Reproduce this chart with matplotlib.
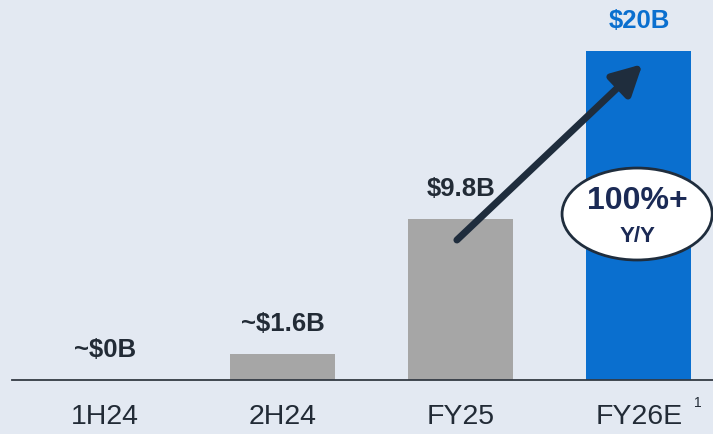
import matplotlib.pyplot as plt
from matplotlib.patches import Ellipse

# Data
periods = ["1H24", "2H24", "FY25", "FY26E"]
revenue = [0.0, 1.6, 9.8, 20.0]
value_labels = ["~$0B", "~$1.6B", "$9.8B", "$20B"]

bg = "#e3e9f2"
gray = "#a6a6a6"
blue = "#0a6fcf"
navy = "#1b2a55"
dark = "#222b36"
font = ["Liberation Sans", "DejaVu Sans"]

fig = plt.figure(figsize=(7.13, 4.34), dpi=100, facecolor=bg)
ax = fig.add_axes([12 / 713, 54 / 434, 701 / 713, 380 / 434], facecolor=bg)

x = list(range(len(periods)))
colors = [gray, gray, gray, blue]
ax.bar(x, revenue, width=0.59, color=colors, zorder=2)

ax.set_xlim(-0.52, 3.416)
ax.set_ylim(0, 23.1)

# value labels
for xi, v, lab in zip(x, revenue, value_labels):
    c = blue if xi == 3 else dark
    ax.text(xi, v + 1.1, lab, ha="center", va="bottom", fontsize=18.5,
            fontweight="bold", color=c, family=font)

# category labels
ax.set_xticks(x)
ax.set_xticklabels(periods, fontsize=20.5, color=dark, family=font)
ax.tick_params(axis="x", length=0, pad=17)
ax.set_yticks([])
for s in ["top", "right", "left"]:
    ax.spines[s].set_visible(False)
ax.spines["bottom"].set_color("#333a44")
ax.spines["bottom"].set_linewidth(1.3)
ax.text(3.31, -1.4, "1", fontsize=10, color=dark, family=font,
        ha="left", va="center", clip_on=False)

# growth arrow
ax.annotate("", xy=(3.02, 19.2), xytext=(1.978, 8.51),
            arrowprops=dict(arrowstyle="-|>,head_length=1.8,head_width=0.95",
                            color="#1f2d3d", lw=5, shrinkA=0, shrinkB=0),
            zorder=4)

# growth bubble
ax.add_patch(Ellipse((2.99, 10.09), 0.843, 5.59, facecolor="white",
                     edgecolor="#1f2d3d", lw=2, zorder=5))
ax.text(2.99, 10.9, "100%+", ha="center", va="center", fontsize=23,
        fontweight="bold", color=navy, family=font, zorder=6)
ax.text(2.99, 8.7, "Y/Y", ha="center", va="center", fontsize=16,
        fontweight="bold", color=navy, family=font, zorder=6)

plt.savefig("out.png", dpi=100, facecolor=bg)
